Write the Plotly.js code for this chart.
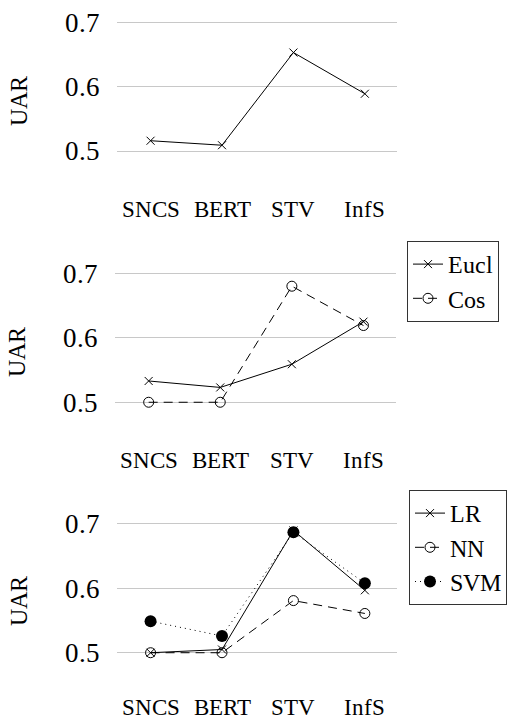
<!DOCTYPE html>
<html>
<head>
<meta charset="utf-8">
<script src="https://cdn.plot.ly/plotly-3.0.1.min.js"></script>
<style>
  @font-face {
    font-family: 'PaperSerif';
    src: local('Liberation Serif'), local('LiberationSerif'), local('LiberationSerif-Regular'),
         local('Times New Roman'), local('TimesNewRomanPSMT'), local('Tinos'), local('Tinos-Regular');
  }
  html, body { margin: 0; padding: 0; background: #fff; }
  #chart { width: 527px; height: 720px; }
</style>
</head>
<body>
<div id="chart"></div>
<script>
// ---- data ----
const categories = ["SNCS", "BERT", "STV", "InfS"];

// panel 1
const top_uar = [0.516, 0.509, 0.653, 0.589];

// panel 2
const eucl_uar = [0.533, 0.523, 0.559, 0.625];
const cos_uar  = [0.500, 0.500, 0.680, 0.619];

// panel 3
const lr_uar  = [0.500, 0.505, 0.690, 0.597];
const nn_uar  = [0.500, 0.500, 0.581, 0.561];
const svm_uar = [0.549, 0.526, 0.687, 0.608];

const yTicks = [0.5, 0.6, 0.7];
const yTitle = "UAR";

// ---- styling ----
const FONT = "PaperSerif, 'Times New Roman', Tinos, serif";
const W = 527, H = 720;
const lineBase = { color: "#000", width: 1 };

function makeTraces() {
  return [
    { x: categories, y: top_uar, type: "scatter", mode: "lines+markers",
      xaxis: "x", yaxis: "y", showlegend: false, name: "",
      line: lineBase,
      marker: { symbol: "x-thin-open", size: 8, color: "#000", line: { color: "#000", width: 1 } } },

    { x: categories, y: eucl_uar, type: "scatter", mode: "lines+markers",
      xaxis: "x2", yaxis: "y2", name: "Eucl", legend: "legend2",
      line: lineBase,
      marker: { symbol: "x-thin-open", size: 8, color: "#000", line: { color: "#000", width: 1 } } },
    { x: categories, y: cos_uar, type: "scatter", mode: "lines+markers",
      xaxis: "x2", yaxis: "y2", name: "Cos", legend: "legend2",
      line: { color: "#000", width: 1, dash: "9px,6px" },
      marker: { symbol: "circle-open", size: 10, color: "#000", line: { color: "#000", width: 1 } } },

    { x: categories, y: lr_uar, type: "scatter", mode: "lines+markers",
      xaxis: "x3", yaxis: "y3", name: "LR", legend: "legend3",
      line: lineBase,
      marker: { symbol: "x-thin-open", size: 8, color: "#000", line: { color: "#000", width: 1 } } },
    { x: categories, y: nn_uar, type: "scatter", mode: "lines+markers",
      xaxis: "x3", yaxis: "y3", name: "NN", legend: "legend3",
      line: { color: "#000", width: 1, dash: "9px,6px" },
      marker: { symbol: "circle-open", size: 10, color: "#000", line: { color: "#000", width: 1 } } },
    { x: categories, y: svm_uar, type: "scatter", mode: "lines+markers",
      xaxis: "x3", yaxis: "y3", name: "SVM", legend: "legend3",
      line: { color: "#000", width: 1, dash: "1px,4px" },
      marker: { symbol: "circle", size: 12, color: "#000" } }
  ];
}

function px2fy(px) { return 1 - px / H; }
function px2fx(px) { return px / W; }

const YMAX = 0.72, PXU = 644;

function xAxis(domain, anchor) {
  return {
    type: "category", domain: domain, anchor: anchor,
    range: [-0.47, 3.45],
    showgrid: false, zeroline: false, showline: false, ticks: "",
    tickfont: { family: FONT, size: 23, color: "#000" },
    ticklabelstandoff: 0,
    fixedrange: true
  };
}
function yAxis(p5, p7, ymin, anchor) {
  // p5, p7: pixel rows of the 0.5 and 0.7 gridlines
  const bottom = p5 + (0.5 - ymin) * PXU;
  const top = p7 - (YMAX - 0.7) * PXU;
  return {
    domain: [px2fy(bottom), px2fy(top)], anchor: anchor,
    range: [ymin, YMAX],
    tickvals: yTicks, ticktext: yTicks.map(v => v.toFixed(1)),
    showgrid: true, gridcolor: "#c8c8c8", gridwidth: 1,
    zeroline: false, showline: false, ticks: "",
    tickfont: { family: FONT, size: 27, color: "#000" },
    ticklabelstandoff: 16,
    title: { text: yTitle, font: { family: FONT, size: 24, color: "#000" }, standoff: 30 },
    fixedrange: true
  };
}

function makeLayout() {
  const legendStyle = {
    bgcolor: "#fff", bordercolor: "#333", borderwidth: 1,
    font: { family: FONT, size: 24, color: "#000" },
    xanchor: "left", yanchor: "top", tracegroupgap: 0, itemwidth: 30
  };
  return {
    width: W, height: H,
    margin: { l: 0, r: 0, t: 0, b: 0 },
    paper_bgcolor: "#fff", plot_bgcolor: "#fff",
    font: { family: FONT, size: 23, color: "#000" },
    showlegend: true,
    xaxis:  xAxis([px2fx(117), px2fx(397)], "y"),
    yaxis:  yAxis(151, 22.3, 0.435, "x"),
    xaxis2: xAxis([px2fx(115), px2fx(395.7)], "y2"),
    yaxis2: yAxis(402.3, 273.3, 0.435, "x2"),
    xaxis3: xAxis([px2fx(117), px2fx(397)], "y3"),
    yaxis3: yAxis(652.7, 524, 0.44, "x3"),
    legend2: Object.assign({}, legendStyle, { x: px2fx(407), y: px2fy(241) }),
    legend3: Object.assign({}, legendStyle, { x: px2fx(409), y: px2fy(490) })
  };
}

function draw() {
  Plotly.newPlot("chart", makeTraces(), makeLayout(), { displayModeBar: false });
}

draw();
if (document.fonts && document.fonts.load) {
  Promise.all([
    document.fonts.load("23px PaperSerif", "SNCS 0.7"),
    document.fonts.load("23px 'Times New Roman'", "SNCS 0.7")
  ]).then(draw, draw);
  document.fonts.ready.then(draw);
}
setTimeout(draw, 150);
</script>
</body>
</html>
